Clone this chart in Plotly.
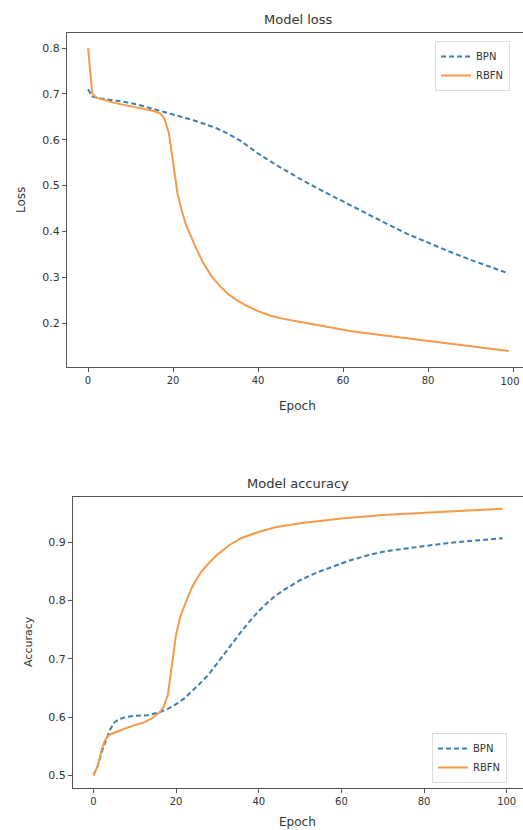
import plotly.graph_objects as go

# ---- data ----
loss_rbfn_epoch = [0, 1, 2, 4, 6, 9, 12, 15, 16, 17, 18, 19, 20, 21, 22, 23, 25, 27, 29, 31, 33, 35, 37, 40, 43, 46, 50, 54, 58, 62, 67, 73, 80, 86, 92, 99]
loss_rbfn = [0.800, 0.700, 0.692, 0.686, 0.681, 0.675, 0.670, 0.664, 0.661, 0.657, 0.646, 0.615, 0.552, 0.485, 0.447, 0.416, 0.372, 0.333, 0.303, 0.281, 0.263, 0.250, 0.239, 0.226, 0.216, 0.209, 0.202, 0.195, 0.188, 0.182, 0.176, 0.169, 0.161, 0.155, 0.147, 0.139]

loss_bpn_epoch = [0, 1, 3, 6, 9, 12, 16, 20, 25, 30, 33, 36, 40, 45, 50, 55, 60, 65, 70, 75, 80, 85, 90, 95, 99]
loss_bpn = [0.710, 0.694, 0.690, 0.686, 0.682, 0.676, 0.666, 0.656, 0.642, 0.626, 0.613, 0.597, 0.570, 0.541, 0.514, 0.489, 0.465, 0.441, 0.418, 0.395, 0.375, 0.356, 0.338, 0.321, 0.308]

acc_rbfn_epoch = [0, 1, 2, 3, 4, 6, 8, 10, 12, 14, 16, 17, 18, 19, 20, 21, 22, 23, 24, 26, 28, 30, 33, 36, 40, 44, 50, 54, 60, 70, 80, 86, 92, 99]
acc_rbfn = [0.500, 0.515, 0.545, 0.563, 0.570, 0.576, 0.581, 0.586, 0.590, 0.597, 0.608, 0.617, 0.638, 0.690, 0.742, 0.772, 0.792, 0.809, 0.825, 0.849, 0.865, 0.879, 0.896, 0.908, 0.918, 0.926, 0.933, 0.936, 0.941, 0.947, 0.951, 0.953, 0.955, 0.958]

acc_bpn_epoch = [0, 1, 2, 3, 4, 5, 6, 8, 10, 13, 16, 18, 20, 22, 24, 26, 28, 30, 32, 34, 36, 38, 40, 42, 44, 46, 48, 50, 54, 58, 62, 66, 70, 75, 80, 86, 92, 99]
acc_bpn = [0.500, 0.515, 0.540, 0.560, 0.578, 0.590, 0.596, 0.600, 0.602, 0.603, 0.608, 0.614, 0.622, 0.632, 0.645, 0.659, 0.674, 0.693, 0.713, 0.732, 0.749, 0.766, 0.782, 0.796, 0.808, 0.818, 0.827, 0.835, 0.848, 0.859, 0.869, 0.877, 0.884, 0.889, 0.894, 0.899, 0.903, 0.907]

x_ticks = [0, 20, 40, 60, 80, 100]
loss_ticks = [0.2, 0.3, 0.4, 0.5, 0.6, 0.7, 0.8]
acc_ticks = [0.5, 0.6, 0.7, 0.8, 0.9]

W, H = 523, 830
BLUE = "#3d7db0"
ORANGE = "#f59a48"
FONT = "DejaVu Sans"
TXT = "#333333"
AX = "#555555"

def px_x(p):
    return p / W

def px_y(p):
    return 1 - p / H

fig = go.Figure()
fig.add_trace(go.Scatter(x=loss_bpn_epoch, y=loss_bpn, name="BPN", mode="lines",
                         line=dict(color=BLUE, width=2, dash="5px,3px"), xaxis="x", yaxis="y", legend="legend"))
fig.add_trace(go.Scatter(x=loss_rbfn_epoch, y=loss_rbfn, name="RBFN", mode="lines",
                         line=dict(color=ORANGE, width=2), xaxis="x", yaxis="y", legend="legend"))
fig.add_trace(go.Scatter(x=acc_bpn_epoch, y=acc_bpn, name="BPN", mode="lines",
                         line=dict(color=BLUE, width=2, dash="5px,3px"), xaxis="x2", yaxis="y2", legend="legend2"))
fig.add_trace(go.Scatter(x=acc_rbfn_epoch, y=acc_rbfn, name="RBFN", mode="lines",
                         line=dict(color=ORANGE, width=2), xaxis="x2", yaxis="y2", legend="legend2"))

axis_common = dict(showgrid=False, zeroline=False, showline=True, linecolor=AX, linewidth=1,
                   ticks="outside", ticklen=4, tickcolor=AX)
tf11 = dict(family=FONT, size=11, color=TXT)
tf10 = dict(family=FONT, size=10, color=TXT)

loss_xrange = [-4.95, 102.35]
loss_xdomain = [px_x(67), 1]

fig.update_layout(
    width=W, height=H, margin=dict(l=0, r=0, t=0, b=0),
    paper_bgcolor="white", plot_bgcolor="white",
    xaxis=dict(domain=loss_xdomain, range=loss_xrange, anchor="y", tickvals=x_ticks,
               ticktext=[str(v) for v in x_ticks[:-1]] + [""], mirror=True, tickfont=tf10, **axis_common),
    # overlay axis carrying only the last (edge) tick label of the loss plot
    xaxis3=dict(domain=loss_xdomain, range=loss_xrange, anchor="y", overlaying="x", side="bottom",
                tickvals=x_ticks[-1:], ticks="", showline=False, showgrid=False, zeroline=False,
                ticklabelshift=-3, ticklabelstandoff=7, ticklabeloverflow="allow", tickfont=tf10),
    yaxis=dict(domain=[px_y(367), px_y(33)], range=[0.104, 0.833], anchor="x", tickvals=loss_ticks,
               tickformat=".1f", tickfont=tf11, **axis_common),
    xaxis2=dict(domain=[px_x(73), 1], range=[-4.95, 103.95], anchor="y2", tickvals=x_ticks, mirror=True,
                tickfont=tf10, **axis_common),
    yaxis2=dict(domain=[px_y(788), px_y(497)], range=[0.478, 0.978], anchor="x2", tickvals=acc_ticks,
                tickformat=".1f", mirror=True, tickfont=tf11, **axis_common),
    legend=dict(x=px_x(435), y=px_y(41), xanchor="left", yanchor="top", bgcolor="white",
                bordercolor="#dddddd", borderwidth=1, font=dict(family=FONT, size=10, color=TXT),
                tracegroupgap=0, itemwidth=30),
    legend2=dict(x=px_x(432), y=px_y(733), xanchor="left", yanchor="top", bgcolor="white",
                 bordercolor="#dddddd", borderwidth=1, font=dict(family=FONT, size=10, color=TXT),
                 tracegroupgap=0, itemwidth=30),
    showlegend=True,
)
# invisible helper trace so the overlay axis is drawn
fig.add_trace(go.Scatter(x=[loss_xrange[0]], y=[loss_ticks[0]], mode="lines", xaxis="x3", yaxis="y",
                         showlegend=False, hoverinfo="skip", line=dict(width=0)))

ann = [
    dict(text="Model loss", x=px_x(298), y=px_y(20), size=13),
    dict(text="Epoch", x=px_x(297), y=px_y(406), size=12),
    dict(text="Model accuracy", x=px_x(298), y=px_y(483), size=13),
    dict(text="Epoch", x=px_x(297), y=px_y(822), size=12),
]
for a in ann:
    fig.add_annotation(text=a["text"], x=a["x"], y=a["y"], xref="paper", yref="paper",
                       xanchor="center", yanchor="middle", showarrow=False,
                       font=dict(family=FONT, size=a["size"], color=TXT))
fig.add_annotation(text="Loss", x=px_x(21), y=px_y(200), xref="paper", yref="paper", textangle=-90,
                   xanchor="center", yanchor="middle", showarrow=False, font=dict(family=FONT, size=12, color=TXT))
fig.add_annotation(text="Accuracy", x=px_x(28), y=px_y(642), xref="paper", yref="paper", textangle=-90,
                   xanchor="center", yanchor="middle", showarrow=False, font=dict(family=FONT, size=11, color=TXT))

fig.write_html("out.html")
